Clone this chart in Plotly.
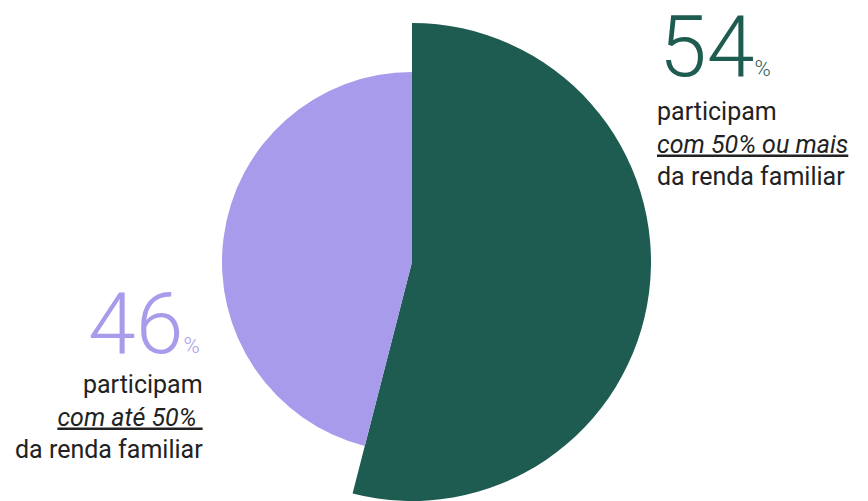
import plotly.graph_objects as go

labels = ["com 50% ou mais", "com até 50%"]
values = [54, 46]
colors = ["#1E5C52", "#A99BEB"]

W, H = 868, 501
fig = go.Figure()

# outer (green) slice
fig.add_trace(go.Pie(
    labels=labels, values=values, sort=False, direction="clockwise", rotation=0,
    marker=dict(colors=[colors[0], "rgba(0,0,0,0)"], line=dict(width=0)),
    textinfo="none", hoverinfo="label+percent", showlegend=False,
    domain=dict(x=[(412 - 239) / W, (412 + 239) / W], y=[0, 478 / H]),
))
# inner (purple) slice
fig.add_trace(go.Pie(
    labels=labels, values=values, sort=False, direction="clockwise", rotation=0,
    marker=dict(colors=["rgba(0,0,0,0)", colors[1]], line=dict(width=0)),
    textinfo="none", hoverinfo="label+percent", showlegend=False,
    domain=dict(x=[(412 - 190) / W, (412 + 190) / W], y=[(239 - 190) / H, (239 + 190) / H]),
))

def px(x):
    return x / W

def py(y):
    return 1 - y / H

num_font = dict(family="Roboto", size=86, weight=300)
txt_font = dict(family="Roboto", size=25, color="#222222")

fig.add_annotation(
    x=px(658), y=py(-5), xref="paper", yref="paper", xanchor="left", yanchor="top",
    text=f"{values[0]}<span style='font-size:22px'>%</span>", showarrow=False,
    font=dict(**num_font, color=colors[0]), borderpad=0,
)
fig.add_annotation(
    x=px(656), y=py(96), xref="paper", yref="paper", xanchor="left", yanchor="top",
    align="left", showarrow=False, font=txt_font, borderpad=0,
    text="participam<br><span style='font-style:italic;text-decoration:underline'>"
         + labels[0] + "</span><br>da renda familiar",
)
fig.add_annotation(
    x=px(201), y=py(323), xref="paper", yref="paper", xanchor="right", yanchor="middle",
    text=f"{values[1]}<span style='font-size:22px'>%</span>", showarrow=False,
    font=dict(**num_font, color=colors[1]), borderpad=0,
)
fig.add_annotation(
    x=px(204), y=py(369), xref="paper", yref="paper", xanchor="right", yanchor="top",
    align="right", showarrow=False, font=txt_font, borderpad=0,
    text="participam<br><span style='font-style:italic;text-decoration:underline'>"
         + labels[1] + " </span><br>da renda familiar",
)

fig.update_layout(
    width=W, height=H, margin=dict(l=0, r=0, t=0, b=0),
    paper_bgcolor="white", plot_bgcolor="white",
)
fig.write_html("out.html", config={"displayModeBar": False},
               post_script="document.body.style.margin='0px';")
